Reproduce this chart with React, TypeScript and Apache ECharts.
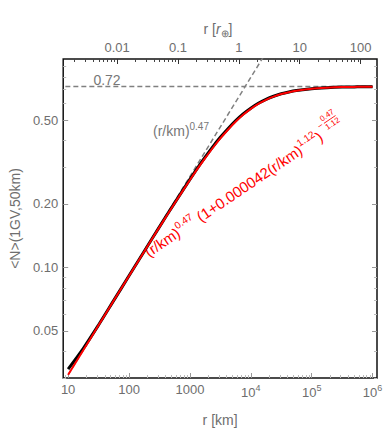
import React, { useEffect, useRef } from 'react';
import * as echarts from 'echarts';

// r in km (sampled along the curves)
const rKm = [10, 17.8, 31.6, 56.2, 100, 178, 316, 562, 1000, 1330, 1780, 2370, 3160, 4220, 5620, 7500, 10000, 13300, 17800, 23700, 31600, 42200, 56200, 100000, 178000, 316000, 562000, 1000000];
// black curve (computed <N>)
const nSim = [0.0330, 0.0414, 0.0534, 0.0698, 0.0913, 0.1193, 0.1558, 0.2025, 0.2615, 0.2960, 0.3335, 0.3730, 0.4140, 0.4550, 0.4960, 0.5345, 0.5690, 0.6000, 0.6265, 0.6480, 0.6655, 0.6790, 0.6895, 0.7040, 0.7115, 0.7160, 0.7180, 0.7194];
// red curve (fit)
const nFit = [0.0310, 0.0406, 0.0532, 0.0697, 0.0912, 0.1191, 0.1553, 0.2016, 0.2596, 0.2931, 0.3296, 0.3683, 0.4088, 0.4497, 0.4906, 0.5292, 0.5646, 0.5963, 0.6233, 0.6456, 0.6637, 0.6776, 0.6887, 0.7036, 0.7113, 0.7160, 0.7180, 0.7194];
// dashed guides
const powerLawR = [10, 1000000];
const powerLawN = [0.0310, 6.93];
const plateauR = [9, 1000000];
const plateauN = [0.72, 0.72];

const bottomTickValues = [10, 100, 1000, 1e4, 1e5, 1e6];
const bottomTickLabels = ['10', '100', '1000', '10{s|4}', '10{s|5}', '10{s|6}'];
const topTickValues = [0.01, 0.1, 1, 10, 100];
const topTickLabels = ['0.01', '0.1', '1', '10', '100'];
const yTickValues = [0.05, 0.1, 0.2, 0.5];
const yTickLabels = ['0.05', '0.10', '0.20', '0.50'];
const yMinorValues = [0.03, 0.04, 0.06, 0.07, 0.08, 0.09, 0.3, 0.4, 0.6, 0.7, 0.8, 0.9];

const earthRadiusKm = 6371;
const X_MIN_KM = 8.3;
const X_MAX_KM = 1.183e6;
const Y_MIN = 0.02993;
const Y_MAX = 0.973;

const lg = Math.log10;
const FONT = 'Liberation Sans, Arial, sans-serif';
const LABEL_COLOR = '#6e6e6e';

function minorDecades(lo: number, hi: number): number[] {
  const out: number[] = [];
  for (let e = Math.floor(lo) - 1; e <= Math.ceil(hi); e++) {
    for (let k = 2; k <= 9; k++) {
      const v = lg(k) + e;
      if (v >= lo && v <= hi) out.push(v);
    }
  }
  return out;
}

function labelFor(values: number[], labels: string[], shift = 0) {
  return (v: number) => {
    const i = values.findIndex((t) => Math.abs(lg(t) - shift - v) < 1e-6);
    return i >= 0 ? labels[i] : '';
  };
}

export default function App() {
  const ref = useRef<HTMLDivElement>(null);

  useEffect(() => {
    if (!ref.current) return;
    const chart = echarts.init(ref.current, undefined, { renderer: 'svg' });

    const xMin = lg(X_MIN_KM);
    const xMax = lg(X_MAX_KM);
    const shift = lg(earthRadiusKm);
    const tMin = xMin - shift;
    const tMax = xMax - shift;
    const yMin = lg(Y_MIN);
    const yMax = lg(Y_MAX);

    const supRich = {
      s: { fontSize: 9, padding: [0, 0, 9, 0], color: LABEL_COLOR, fontFamily: FONT },
    };

    const baseX = {
      type: 'value',
      gridIndex: 0,
      min: xMin,
      max: xMax,
      splitLine: { show: false },
      axisLine: { show: false, onZero: false },
    };
    const baseT = { ...baseX, min: tMin, max: tMax };
    const baseY = {
      type: 'value',
      gridIndex: 0,
      min: yMin,
      max: yMax,
      splitLine: { show: false },
      axisLine: { show: false, onZero: false },
    };

    const bottomMajor = bottomTickValues.map(lg);
    const bottomMinor = minorDecades(xMin, xMax);
    const topMajor = topTickValues.map((v) => lg(v));
    const topMinor = minorDecades(tMin, tMax);
    const yMajor = yTickValues.map(lg);
    const yMinor = yMinorValues.map(lg);

    const toPairs = (xs: number[], ys: number[]) => xs.map((x, i) => [lg(x), lg(ys[i])]);

    chart.setOption({
      animation: false,
      grid: {
        left: 58,
        right: 15,
        top: 59,
        bottom: 59,
        show: true,
        borderColor: '#111',
        borderWidth: 1.5,
        backgroundColor: 'transparent',
      },
      xAxis: [
        {
          ...baseX,
          position: 'bottom',
          axisTick: { inside: true, length: 5, customValues: bottomMajor, lineStyle: { color: '#999', width: 1 } },
          axisLabel: {
            customValues: bottomMajor,
            formatter: labelFor(bottomTickValues, bottomTickLabels),
            color: LABEL_COLOR,
            fontSize: 13,
            fontFamily: FONT,
            margin: 5,
            rich: supRich,
          },
          name: 'r [km]',
          nameLocation: 'middle',
          nameGap: 35,
          nameTextStyle: { color: LABEL_COLOR, fontSize: 14, fontFamily: FONT },
        },
        {
          ...baseX,
          position: 'bottom',
          axisTick: { inside: true, length: 3, customValues: bottomMinor, lineStyle: { color: '#bbb', width: 1 } },
          axisLabel: { show: false },
        },
        {
          ...baseT,
          position: 'top',
          axisTick: { inside: true, length: 5, customValues: topMajor, lineStyle: { color: '#333', width: 1 } },
          axisLabel: {
            customValues: topMajor,
            formatter: labelFor(topTickValues, topTickLabels),
            color: LABEL_COLOR,
            fontSize: 13,
            fontFamily: FONT,
            margin: 5,
          },
        },
        {
          ...baseT,
          position: 'top',
          axisTick: { inside: true, length: 3, customValues: topMinor, lineStyle: { color: '#444', width: 1 } },
          axisLabel: { show: false },
        },
      ],
      yAxis: [
        {
          ...baseY,
          position: 'left',
          axisTick: { inside: true, length: 5, customValues: yMajor, lineStyle: { color: '#999', width: 1 } },
          axisLabel: {
            customValues: yMajor,
            formatter: labelFor(yTickValues, yTickLabels),
            color: LABEL_COLOR,
            fontSize: 13,
            fontFamily: FONT,
            margin: 5,
          },
          name: '<N>(1GV,50km)',
          nameLocation: 'middle',
          nameGap: 33,
          nameTextStyle: { color: LABEL_COLOR, fontSize: 14, fontFamily: FONT },
        },
        {
          ...baseY,
          position: 'left',
          axisTick: { inside: true, length: 3, customValues: yMinor, lineStyle: { color: '#bbb', width: 1 } },
          axisLabel: { show: false },
        },
        {
          ...baseY,
          position: 'right',
          axisTick: { inside: true, length: 5, customValues: yMajor, lineStyle: { color: '#999', width: 1 } },
          axisLabel: { show: false },
        },
        {
          ...baseY,
          position: 'right',
          axisTick: { inside: true, length: 3, customValues: yMinor, lineStyle: { color: '#bbb', width: 1 } },
          axisLabel: { show: false },
        },
      ],
      series: [
        {
          type: 'line',
          name: 'plateau',
          data: toPairs(plateauR, plateauN),
          symbol: 'none',
          lineStyle: { color: '#808080', width: 1.5, type: [5, 3] },
          z: 1,
        },
        {
          type: 'line',
          name: 'power law',
          data: toPairs(powerLawR, powerLawN),
          symbol: 'none',
          lineStyle: { color: '#808080', width: 1.5, type: [5, 3] },
          z: 1,
        },
        {
          type: 'line',
          name: 'computed',
          data: toPairs(rKm, nSim),
          symbol: 'none',
          smooth: 0.3,
          lineStyle: { color: '#000', width: 3 },
          z: 2,
        },
        {
          type: 'line',
          name: 'fit',
          data: toPairs(rKm, nFit),
          symbol: 'none',
          smooth: 0.3,
          lineStyle: { color: '#ff0000', width: 2 },
          z: 3,
        },
      ],
      graphic: [
        {
          type: 'text',
          x: 218,
          y: 29,
          style: {
            text: '{n|r [}{i|r}{sub|⊕}{n|]}',
            align: 'center',
            verticalAlign: 'middle',
            fill: LABEL_COLOR,
            rich: {
              n: { fontSize: 14, fontFamily: FONT, color: LABEL_COLOR },
              i: { fontSize: 14, fontFamily: FONT, fontStyle: 'italic', color: LABEL_COLOR },
              sub: { fontSize: 10, fontFamily: FONT, color: LABEL_COLOR, padding: [8, 0, 0, 0] },
            },
          },
        },
        {
          type: 'text',
          x: 107,
          y: 80,
          style: { text: '0.72', align: 'center', verticalAlign: 'middle', fill: '#777', fontSize: 14, fontFamily: FONT },
        },
        {
          type: 'text',
          x: 153,
          y: 131,
          style: {
            text: '(r/km){s|0.47}',
            align: 'left',
            verticalAlign: 'middle',
            fill: '#777',
            fontSize: 14,
            fontFamily: FONT,
            rich: { s: { fontSize: 10, fontFamily: FONT, color: '#777', padding: [0, 0, 10, 0] } },
          },
        },
        {
          type: 'group',
          x: 146,
          y: 253,
          rotation: (34 * Math.PI) / 180,
          children: [
            {
              type: 'text',
              x: 0,
              y: 0,
              style: {
                text: '(r/km){s|0.47}{a| (1+0.000042(r/km)}{s|1.12}{a|)}',
                align: 'left',
                verticalAlign: 'middle',
                fill: '#f00',
                fontSize: 15,
                fontFamily: FONT,
                rich: {
                  a: { fontSize: 15, fontFamily: FONT, color: '#f00' },
                  s: { fontSize: 10, fontFamily: FONT, color: '#f00', padding: [0, 0, 11, 0] },
                },
              },
            },
            {
              type: 'text',
              x: 213,
              y: -8,
              style: { text: '−', align: 'left', verticalAlign: 'middle', fill: '#f00', fontSize: 9, fontFamily: FONT },
            },
            {
              type: 'text',
              x: 227,
              y: -13,
              style: { text: '0.47', align: 'center', verticalAlign: 'middle', fill: '#f00', fontSize: 8, fontFamily: FONT },
            },
            {
              type: 'line',
              shape: { x1: 220, y1: -8, x2: 234, y2: -8 },
              style: { stroke: '#f00', lineWidth: 0.8 },
            },
            {
              type: 'text',
              x: 227,
              y: -3,
              style: { text: '1.12', align: 'center', verticalAlign: 'middle', fill: '#f00', fontSize: 8, fontFamily: FONT },
            },
          ],
        },
      ],
    });

    return () => chart.dispose();
  }, []);

  return <div ref={ref} style={{ width: 392, height: 437, position: 'absolute', left: 0, top: 0 }} />;
}
